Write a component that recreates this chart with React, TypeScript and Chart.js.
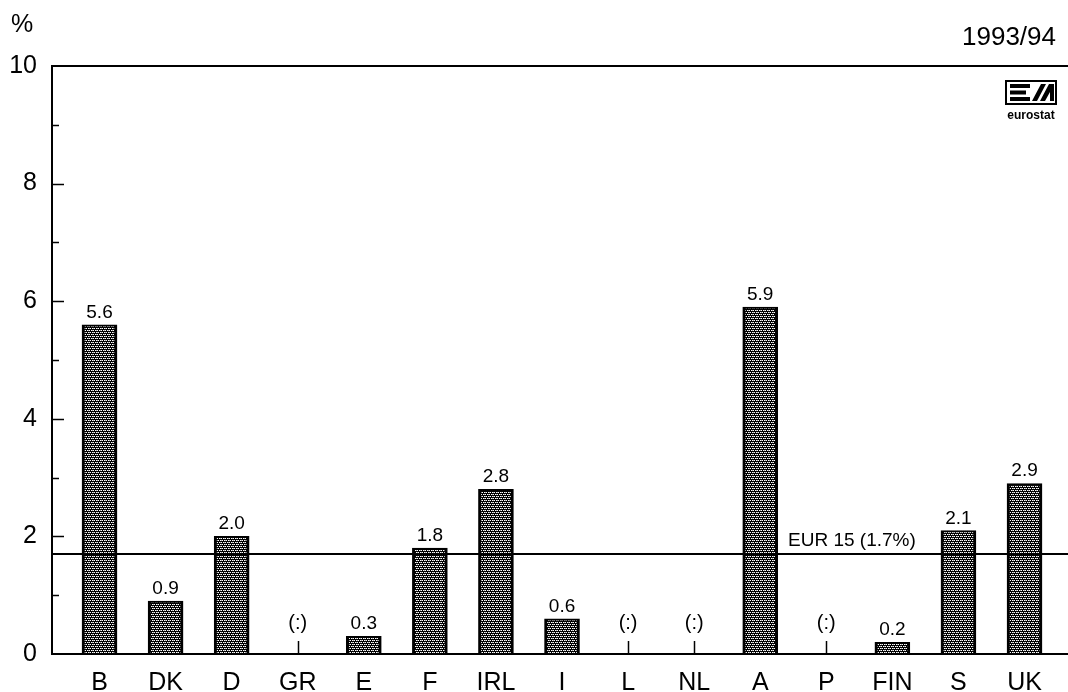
import React, { useEffect, useRef } from "react";
import { Chart, registerables } from "chart.js";

Chart.register(...registerables);

const categories = ["B", "DK", "D", "GR", "E", "F", "IRL", "I", "L", "NL", "A", "P", "FIN", "S", "UK"];
const values: (number | null)[] = [5.6, 0.9, 2.0, null, 0.3, 1.8, 2.8, 0.6, null, null, 5.9, null, 0.2, 2.1, 2.9];
const eurValue = 1.7;
const eurLabel = "EUR 15 (1.7%)";
const yTitle = "%";
const periodLabel = "1993/94";
const missingLabel = "(:)";

const FONT = "'Liberation Sans', Arial, Helvetica, sans-serif";

function makePattern(): CanvasPattern | string {
  const tile = document.createElement("canvas");
  tile.width = 4;
  tile.height = 4;
  const c = tile.getContext("2d");
  if (!c) return "#333";
  c.fillStyle = "#000";
  c.fillRect(0, 0, 4, 4);
  c.fillStyle = "#fff";
  c.fillRect(0, 0, 1, 1);
  c.fillRect(2, 0, 1, 1);
  c.fillRect(1, 2, 1, 1);
  c.fillRect(3, 2, 1, 1);
  c.fillStyle = "#999";
  c.fillRect(1, 0, 1, 1);
  c.fillRect(0, 2, 1, 1);
  const p = c.createPattern(tile, "repeat");
  return p || "#333";
}

const decorPlugin = {
  id: "decor",
  beforeDatasetsDraw(chart: any) {
    const { ctx, chartArea, scales } = chart;
    const y = scales.y;
    ctx.save();
    ctx.strokeStyle = "#000";
    ctx.lineWidth = 2;
    ctx.beginPath();
    ctx.moveTo(chartArea.left, chartArea.top);
    ctx.lineTo(chartArea.left, chartArea.bottom);
    ctx.moveTo(chartArea.left - 1, chartArea.top);
    ctx.lineTo(chart.width, chartArea.top);
    ctx.moveTo(chartArea.left - 1, chartArea.bottom);
    ctx.lineTo(chart.width, chartArea.bottom);
    ctx.stroke();
    ctx.lineWidth = 1.5;
    for (let v = 1; v < 10; v++) {
      const py = Math.round(y.getPixelForValue(v)) + 0.5;
      const len = v % 2 === 0 ? 12 : 7;
      ctx.beginPath();
      ctx.moveTo(chartArea.left, py);
      ctx.lineTo(chartArea.left + len, py);
      ctx.stroke();
    }
    ctx.fillStyle = "#000";
    ctx.font = `25px ${FONT}`;
    ctx.textBaseline = "alphabetic";
    ctx.textAlign = "left";
    ctx.fillText(yTitle, 11, 32);
    ctx.font = `26px ${FONT}`;
    ctx.textAlign = "right";
    ctx.fillText(periodLabel, 1056, 45);
    const lx = 1005, ly = 80, lw = 52, lh = 25;
    ctx.lineWidth = 2;
    ctx.strokeRect(lx + 1, ly + 1, lw - 2, lh - 2);
    ctx.beginPath();
    ctx.rect(lx + 5, ly + 4, 20, 4);
    ctx.rect(lx + 5, ly + 10.5, 16, 4);
    ctx.rect(lx + 5, ly + 17, 20, 4);
    ctx.fill();
    ctx.beginPath();
    ctx.moveTo(lx + 27, ly + 21);
    ctx.lineTo(lx + 36, ly + 4);
    ctx.lineTo(lx + 41, ly + 4);
    ctx.lineTo(lx + 32, ly + 21);
    ctx.closePath();
    ctx.moveTo(lx + 35, ly + 21);
    ctx.lineTo(lx + 44, ly + 4);
    ctx.lineTo(lx + 49, ly + 4);
    ctx.lineTo(lx + 49, ly + 21);
    ctx.lineTo(lx + 45, ly + 21);
    ctx.lineTo(lx + 45, ly + 12);
    ctx.lineTo(lx + 40, ly + 21);
    ctx.closePath();
    ctx.fill();
    ctx.font = `bold 12px ${FONT}`;
    ctx.textAlign = "center";
    ctx.fillText("eurostat", lx + lw / 2, 119);
    ctx.restore();
  },
  afterDatasetsDraw(chart: any) {
    const { ctx, chartArea, scales } = chart;
    const x = scales.x;
    const y = scales.y;
    ctx.save();
    const ey = Math.round(y.getPixelForValue(eurValue));
    ctx.strokeStyle = "#000";
    ctx.lineWidth = 2;
    ctx.beginPath();
    ctx.moveTo(chartArea.left, ey);
    ctx.lineTo(chart.width, ey);
    ctx.stroke();
    ctx.fillStyle = "#000";
    ctx.font = `19px ${FONT}`;
    ctx.textAlign = "left";
    ctx.textBaseline = "alphabetic";
    ctx.fillText(eurLabel, 788, ey - 8);
    ctx.textAlign = "center";
    values.forEach((v, i) => {
      const px = x.getPixelForValue(i);
      const base = y.getPixelForValue(0);
      if (v === null) {
        ctx.font = `20px ${FONT}`;
        ctx.fillText(missingLabel, px, base - 25);
        ctx.lineWidth = 1.5;
        ctx.beginPath();
        ctx.moveTo(Math.round(px) + 0.5, base - 13);
        ctx.lineTo(Math.round(px) + 0.5, base);
        ctx.stroke();
      } else {
        ctx.font = `19px ${FONT}`;
        ctx.fillText(v.toFixed(1), px, y.getPixelForValue(v) - 7);
      }
    });
    ctx.restore();
  },
};

export default function App() {
  const ref = useRef<HTMLCanvasElement | null>(null);
  useEffect(() => {
    if (!ref.current) return;
    const pattern = makePattern();
    const chart = new Chart(ref.current, {
      type: "bar",
      data: {
        datasets: [
          {
            data: values.map((v, i) => ({ x: i, y: v })) as any,
            backgroundColor: pattern as any,
            borderColor: "#000",
            borderWidth: { left: 3, right: 3, top: 2, bottom: 0 } as any,
            borderSkipped: false as any,
            barThickness: 35,
          },
        ],
      },
      options: {
        animation: false,
        responsive: false,
        devicePixelRatio: 1,
        layout: { padding: { top: 66, left: 0, right: 0, bottom: 0 } },
        plugins: { legend: { display: false }, tooltip: { enabled: false }, title: { display: false } },
        scales: {
          x: {
            type: "linear",
            offset: false,
            min: -0.719,
            max: 14.658,
            grid: { display: false, drawTicks: false, offset: false },
            border: { display: false },
            afterBuildTicks: (scale: any) => {
              scale.ticks = categories.map((_, i) => ({ value: i }));
            },
            afterFit: (scale: any) => {
              scale.height = 38;
            },
            ticks: {
              autoSkip: false,
              maxRotation: 0,
              padding: 14,
              color: "#000",
              font: { family: FONT, size: 25 },
              callback: (v: any) => categories[Math.round(Number(v))] ?? "",
            },
          },
          y: {
            type: "linear",
            min: 0,
            max: 10,
            grid: { display: false, drawTicks: false },
            border: { display: false },
            afterFit: (scale: any) => {
              scale.width = 52;
            },
            ticks: {
              stepSize: 1,
              padding: 15,
              color: "#000",
              font: { family: FONT, size: 25 },
              callback: (v: any) => (Number(v) % 2 === 0 ? String(v) : ""),
            },
          },
        },
      },
      plugins: [decorPlugin],
    });
    return () => chart.destroy();
  }, []);
  return (
    <div style={{ position: "fixed", left: 0, top: 0, width: 1068, height: 692, background: "#fff" }}>
      <canvas ref={ref} width={1068} height={692} style={{ display: "block", width: 1068, height: 692 }} />
    </div>
  );
}
